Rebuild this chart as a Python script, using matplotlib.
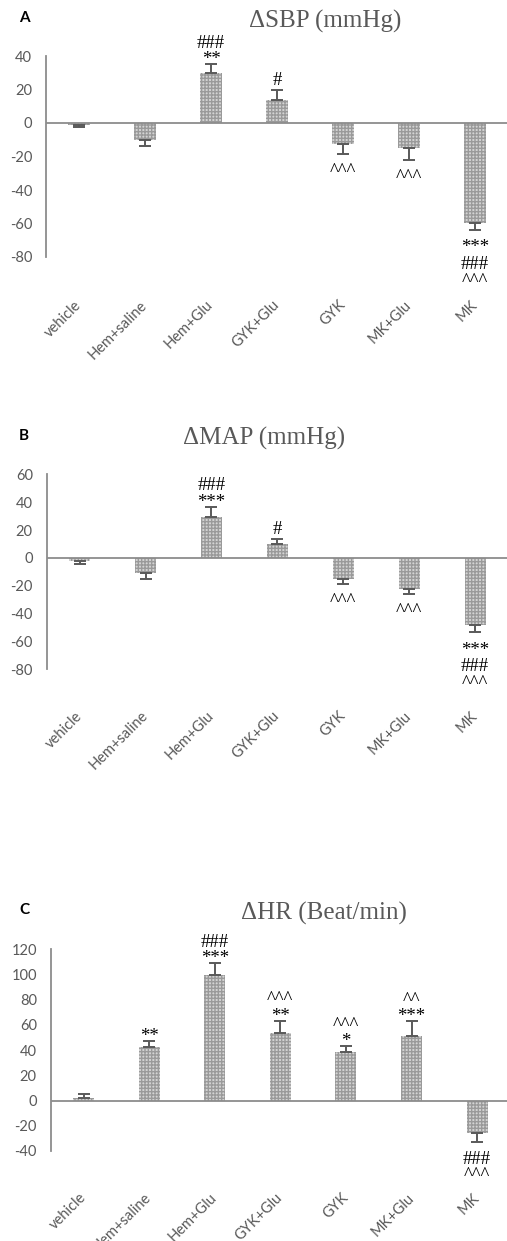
import matplotlib
matplotlib.use('Agg')
import matplotlib.pyplot as plt

categories = ['vehicle', 'Hem+saline', 'Hem+Glu', 'GYK+Glu', 'GYK', 'MK+Glu', 'MK']

sbp_mean = [-1, -10, 30, 14, -12.5, -15, -60]
sbp_err = [1.5, 4, 5, 6, 6, 7, 4]
sbp_marks = [[], [], ['###', '**'], ['#'], ['^^^'], ['^^^'], ['***', '###', '^^^']]

map_mean = [-2.5, -11, 29, 10, -15.5, -22, -48]
map_err = [2, 4, 7.5, 3.5, 3.5, 4, 5.5]
map_marks = [[], [], ['###', '***'], ['#'], ['^^^'], ['^^^'], ['***', '###', '^^^']]

hr_mean = [2, 42.5, 99.5, 54, 38.5, 51, -26]
hr_err = [3, 5, 9.5, 9.5, 4.5, 12, 6.5]
hr_marks = [[], ['**'], ['###', '***'], ['^^^', '**'], ['^^^', '*'], ['^^', '***'], ['###', '^^^']]

W, H = 507, 1241
fig = plt.figure(figsize=(W / 100, H / 100), dpi=100)

GRAY = '#595959'
AXC = '#8c8c8c'
SERIF = 'Liberation Serif'
SANS = 'Lato'
FS = 13.5
INK_BOTTOM = {'#': 0.0, '*': 0.255, '^': 0.297}
INK_TOP = 0.676


def px(x0, y0, x1, y1):
    return [x0 / W, 1 - y1 / H, (x1 - x0) / W, (y1 - y0) / H]


panels = [
    dict(rect=px(46, 56, 508, 257), ylim=(-80, 40), yt=[40, 20, 0, -20, -40, -60, -80],
         mean=sbp_mean, err=sbp_err, marks=sbp_marks, title='ΔSBP (mmHg)', tx=325, ty=21,
         letter='A', ly=18, pad=33),
    dict(rect=px(46.7, 474.3, 508, 669.3), ylim=(-80, 60), yt=[60, 40, 20, 0, -20, -40, -60, -80],
         mean=map_mean, err=map_err, marks=map_marks, title='ΔMAP (mmHg)', tx=264, ty=438,
         letter='B', ly=436, pad=32),
    dict(rect=px(50.7, 949.3, 510, 1151), ylim=(-40, 120), yt=[120, 100, 80, 60, 40, 20, 0, -20, -40],
         mean=hr_mean, err=hr_err, marks=hr_marks, title='ΔHR (Beat/min)', tx=324, ty=913,
         letter='C', ly=910, pad=32),
]

GAP_POS = 3.4   # points between error end and ink bottom
GAP_NEG = 6.8   # points between error end and ink top
PITCH = 12.0    # baseline-to-baseline points

for p in panels:
    ax = fig.add_axes(p['rect'])
    n = len(categories)
    xs = list(range(n))
    mean = p['mean']
    err = p['err']
    lower = [e if m < 0 else 0 for m, e in zip(mean, err)]
    upper = [e if m >= 0 else 0 for m, e in zip(mean, err)]
    ax.bar(xs, mean, width=0.32, color='#d4d4d4', edgecolor='#9a9a9a', linewidth=0,
           hatch='+++++', zorder=2)
    ax.errorbar(xs, mean, yerr=[lower, upper], fmt='none', ecolor=GRAY, elinewidth=1.4,
                capsize=4, capthick=1.4, zorder=3)
    ax.axhline(0, color=AXC, lw=1.3, zorder=4)
    ax.set_xlim(-0.5, n - 0.5)
    ax.set_ylim(*p['ylim'])
    ax.set_yticks(p['yt'])
    ax.set_yticklabels([str(v) for v in p['yt']], fontfamily=SANS, fontsize=10.5, color=GRAY)
    ax.set_xticks(xs)
    ax.set_xticklabels(categories, rotation=45, ha='right', va='center', rotation_mode='anchor',
                       fontfamily=SANS, fontsize=10.5, color=GRAY)
    ax.tick_params(axis='y', length=0, pad=10)
    ax.tick_params(axis='x', length=0, pad=p['pad'])
    for s in ['top', 'right', 'bottom']:
        ax.spines[s].set_visible(False)
    ax.spines['left'].set_color(AXC)
    ax.spines['left'].set_linewidth(1.3)
    ax.patch.set_alpha(0)

    for i, (m, e, marks) in enumerate(zip(mean, err, p['marks'])):
        if not marks:
            continue
        if m >= 0:
            end = m + e
            seq = list(reversed(marks))
            base = GAP_POS - INK_BOTTOM[seq[0][0]] * FS
            offs = [base + k * PITCH for k in range(len(seq))]
        else:
            end = m - e
            seq = list(marks)
            base = -(GAP_NEG + INK_TOP * FS)
            offs = [base - k * PITCH for k in range(len(seq))]
        for s, o in zip(seq, offs):
            ax.annotate(s, xy=(i, end), xytext=(0, o),
                        textcoords='offset points', ha='center', va='baseline',
                        fontfamily=SERIF, fontsize=FS, color='black', annotation_clip=False)

    fig.text(p['tx'] / W, 1 - p['ty'] / H, p['title'], ha='center', va='center',
             fontfamily=SERIF, fontsize=18, color=GRAY)
    fig.text(24 / W, 1 - p['ly'] / H, p['letter'], ha='center', va='center',
             fontfamily=SANS, fontweight='bold', fontsize=11, color='black')

fig.savefig('out.png', dpi=100)
